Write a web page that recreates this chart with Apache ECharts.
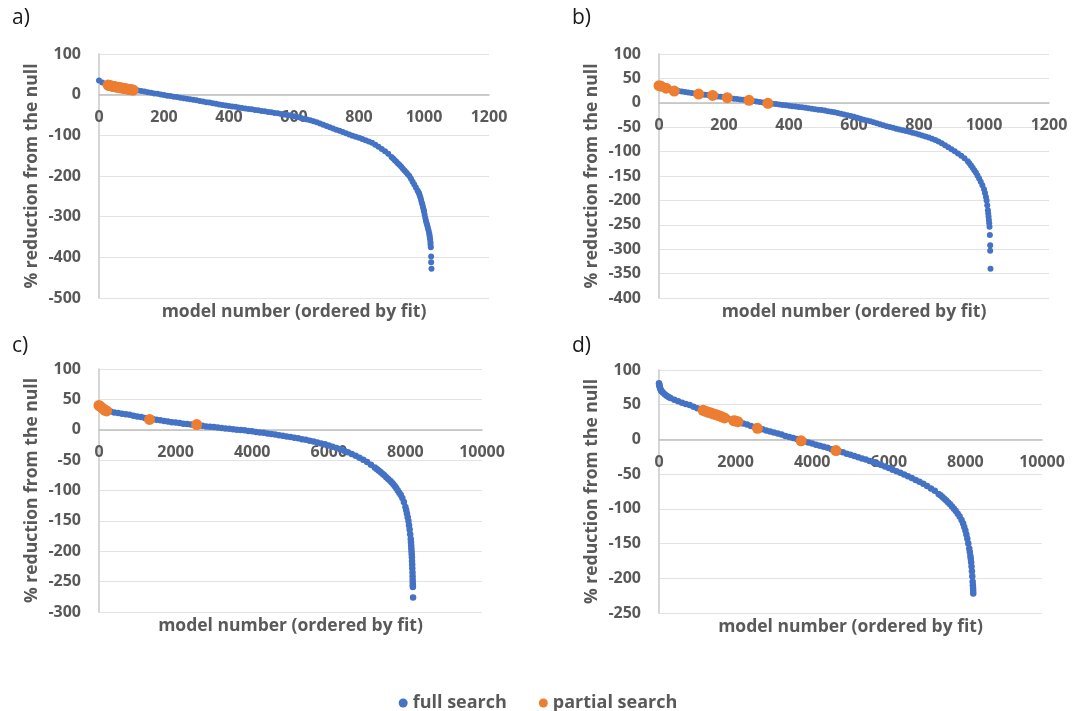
<!DOCTYPE html>
<html><head><meta charset="utf-8">
<script src="https://cdn.jsdelivr.net/npm/echarts@6/dist/echarts.min.js"></script>
<style>html,body{margin:0;padding:0;background:#fff}#c{width:1076px;height:711px}</style>
</head><body><div id="c"></div>
<script>
// ---------- DATA ----------
const seriesNames = ['full search', 'partial search'];
const panelLabels = ['a)', 'b)', 'c)', 'd)'];
const xAxisTitle = 'model number (ordered by fit)';
const yAxisTitle = '% reduction from the null';

// axis ranges / ticks
const xMin = [0, 0, 0, 0];
const xMax = [1200, 1200, 10000, 10000];
const xStep = [200, 200, 2000, 2000];
const yMin = [-500, -400, -300, -250];
const yMax = [100, 100, 100, 100];
const yStep = [100, 50, 50, 50];

// panel a
const aFullX = [0,10,20,30,40,50,60,70,80,90,100,110,120,130,140,150,160,170,180,190,200,210,220,230,240,250,260,270,280,290,300,310,320,330,340,350,360,370,380,390,400,410,420,430,440,450,460,470,480,490,500,510,520,530,540,550,560,570,580,590,600,610,620,630,640,650,660,670,680,690,700,710,720,730,740,750,760,770,780,790,800,810,820,830,840,850,860,870,880,890,900,905,910,915,920,925,930,935,940,945,950,955,960,965,970,975,980,983,985,987,989,991,993,995,997,999,1000,1002,1004,1006,1008,1010,1012,1014,1016,1017,1018,1019,1020,1020,1021,1022,1022,1023];
const aFullY = [35,30,26,23,21,19.5,18,16.5,15,13.5,12,11,10,9,7.5,6,4.5,3,2,0.5,-1,-2.5,-3.5,-5,-6,-7.5,-9,-10,-11.5,-12.5,-14,-15.5,-17,-18.5,-19.5,-21,-22.5,-24,-25.5,-26.5,-28,-29,-30,-31.5,-32.5,-34,-35,-36,-37.5,-38.5,-40,-41,-42.5,-43.5,-45,-46,-47.5,-49,-50,-51.5,-53,-55,-57,-59,-61,-63,-65.5,-68,-71,-74,-77,-80,-83,-86,-89,-92,-95,-98,-101,-103.5,-106,-109,-112,-115,-118.5,-123,-128,-133.5,-139,-145,-153,-157,-161,-165,-169,-173,-177,-182,-186.5,-191,-195.5,-200,-207,-214,-221,-228.5,-235.5,-240,-243,-248,-253,-259,-265,-270,-277,-283,-287,-295,-303,-310,-316,-322,-328,-334,-341,-346,-351,-357,-363,-369,-375,-398,-412,-428];
const aPartX = [28,32,36,40,45,50,55,60,65,70,75,80,85,90,95,100,105];
const aPartY = [23.5,22.5,22,21,20,19.5,18.5,18,17,16.5,15.5,15,14,13.5,12.5,12,11.5];

// panel b
const bFullX = [0,10,20,30,40,50,60,70,80,90,100,110,120,130,140,150,160,170,180,190,200,210,220,230,240,250,260,270,280,290,300,310,320,330,340,350,360,370,380,390,400,410,420,430,440,450,460,470,480,490,500,510,520,530,540,550,560,570,580,590,600,610,620,630,640,650,660,670,680,690,700,710,720,730,740,750,760,770,780,790,800,810,820,830,840,850,860,870,880,890,900,910,920,930,940,950,955,960,965,970,975,980,985,990,995,1000,1003,1006,1008,1010,1012,1013,1014,1015,1016,1017,1018,1019,1019,1020];
const bFullY = [38,34,31,29,27,25.5,24,23,22,21,20,19,18.5,17.5,16.5,16,15,14,13,12.5,11.5,10.5,9.5,8.5,8,7,6,5,4,3.5,2.5,1.5,0.5,0,-1,-2,-2.5,-3.5,-4.5,-5,-6,-7,-7.5,-8.5,-9,-10,-11,-12,-13,-14,-15,-16,-17.5,-18.5,-19.5,-21,-22.5,-24,-25.5,-27,-28.5,-30.5,-32.5,-34.5,-36.5,-38,-40,-42,-44,-46,-48,-49.5,-51,-53,-54.5,-56,-58,-59.5,-61.5,-63,-65,-67,-69,-71,-73.5,-76,-79.5,-83,-87,-91,-95,-99.5,-104,-108.5,-113.5,-120,-124,-128.5,-133,-138,-143,-149,-155,-162,-169,-177,-185,-193,-200,-210,-220,-227,-233,-240,-247,-254,-271,-292,-303,-340];
const bPartX = [0,6,22,47,122,165,210,277,335];
const bPartY = [35,34,30,24,18,15,10.5,5,-1];

// panel c
const cFullX = [0,20,50,100,200,300,400,500,600,700,800,900,1000,1100,1200,1300,1400,1500,1600,1700,1800,1900,2000,2100,2200,2300,2400,2500,2600,2700,2800,2900,3000,3100,3200,3300,3400,3500,3600,3700,3800,3900,4000,4100,4200,4300,4400,4500,4600,4700,4800,4900,5000,5100,5200,5300,5400,5500,5600,5700,5800,5900,6000,6100,6200,6300,6400,6500,6600,6700,6800,6900,7000,7100,7200,7250,7300,7350,7400,7450,7500,7550,7600,7640,7680,7720,7760,7800,7840,7880,7920,7960,8000,8020,8040,8060,8080,8095,8110,8125,8140,8145,8150,8155,8160,8165,8170,8173,8177,8180,8185,8188,8190,8192,8194,8195,8200];
const cFullY = [40,39,37.5,36,33,30,28.5,27.5,26.5,25.5,24.5,23,22,21,19.5,18.5,17.5,16.5,15.5,14.5,13.5,12.5,12,11,10,9.5,8.5,8,7,6.5,5.5,5,4.5,3.5,3,2,1.5,1,0,-0.5,-1,-2,-2.5,-3.5,-4.5,-5,-6,-7,-8,-9,-10,-11,-12,-13,-14,-15.5,-16.5,-18,-19.5,-21,-22.5,-24,-26,-28,-30,-32,-34.5,-37,-40,-43,-46,-49.5,-53,-57.5,-62,-64.5,-67,-69.5,-72.5,-75,-78,-81,-84,-86.5,-89.5,-92.5,-96,-100,-103.5,-107.5,-112.5,-119,-127,-132,-138,-144,-150,-157,-164,-172,-180,-185,-190,-195,-200,-205,-210,-216,-222,-228,-235,-241,-247,-252,-256,-259,-276];
const cPartX = [0,40,100,160,200,1320,2550];
const cPartY = [40,38,35,32,31,17,8.5];

// panel d
const dFullX = [0,5,10,20,35,50,70,100,150,200,250,300,400,500,600,700,800,900,1000,1100,1200,1300,1400,1500,1600,1700,1800,1900,2000,2100,2200,2300,2400,2500,2600,2700,2800,2900,3000,3100,3200,3300,3400,3500,3600,3700,3800,3900,4000,4100,4200,4300,4400,4500,4600,4700,4800,4900,5000,5100,5200,5300,5400,5500,5600,5700,5800,5900,6000,6100,6200,6300,6400,6500,6600,6700,6800,6900,7000,7100,7200,7300,7350,7400,7450,7500,7550,7600,7650,7700,7750,7800,7850,7900,7940,7970,8000,8025,8050,8075,8100,8115,8130,8140,8150,8160,8170,8180,8190,8195,8200,8203,8205];
const dFullY = [81,79,77.5,75.5,73,71,69.5,67.5,65,63,61,59.5,57,55,53,51,49.5,47,45,43,41,39,37,35.5,33.5,31.5,30,28,26.5,25,23,21.5,19.5,18,16,14.5,13,11.5,10,8.5,7,5,3.5,2,0.5,-1,-3,-4.5,-6,-7.5,-9,-10.5,-12,-14,-15.5,-17,-18.5,-20.5,-22,-24,-25.5,-27.5,-29,-31,-33,-35,-37,-39,-41,-43.5,-46,-48,-50.5,-53,-55.5,-58.5,-61,-64,-67,-70.5,-74,-78.5,-80.5,-83,-85.5,-88,-91,-93.5,-96.5,-100,-103,-107,-111,-116,-121,-126,-131,-137,-143,-150,-157,-162,-168,-172,-177,-183,-190,-197,-205,-210,-214,-218,-222];
const dPartX = [1150,1220,1290,1360,1430,1500,1570,1640,1710,1950,2000,2060,2570,3710,4620];
const dPartY = [42,40.5,39,38,36.5,35.5,34,32.5,31,27,26.5,25.5,16,-2,-16];

// ---------- CHART ----------
function pairs(xs, ys) { const n = Math.min(xs.length, ys.length); const out = []; for (let i = 0; i < n; i++) out.push([xs[i], ys[i]]); return out; }
const full = [pairs(aFullX, aFullY), pairs(bFullX, bFullY), pairs(cFullX, cFullY), pairs(dFullX, dFullY)];
const part = [pairs(aPartX, aPartY), pairs(bPartX, bPartY), pairs(cPartX, cPartY), pairs(dPartX, dPartY)];

const FONT = '"Open Sans", "Liberation Sans", sans-serif';
const GREY = '#595959';
const BLUE = '#4472C4', ORANGE = '#ED7D31';
const grids = [
  {left: 99, top: 54, width: 390, height: 244},
  {left: 659, top: 54, width: 390, height: 244},
  {left: 99, top: 369, width: 383, height: 243},
  {left: 659, top: 370, width: 383, height: 243}
];
const labelPos = [[12, 8], [572, 8], [12, 336], [572, 336]];
const blueSize = [6, 6, 6.5, 6.5];

const txt = {fontFamily: FONT, fontWeight: 'bold', fontSize: 16, color: GREY};
// distance (px) from the bottom of each grid to its y = 0 line, from the axis range
const zeroOffset = grids.map((g, i) => g.height * (0 - yMin[i]) / (yMax[i] - yMin[i]));

const option = {
  animation: false,
  backgroundColor: '#fff',
  grid: grids.map(g => Object.assign({containLabel: false}, g)),
  title: [].concat(
    panelLabels.map((t, i) => ({text: t, left: labelPos[i][0], top: labelPos[i][1], padding: 0,
      textStyle: {fontFamily: FONT, fontWeight: 'normal', fontSize: 21, color: '#1a1a1a'}})),
    grids.map((g, i) => ({text: xAxisTitle, left: g.left + g.width / 2, top: g.top + g.height + 5, padding: 0,
      textAlign: 'center', textStyle: Object.assign({}, txt, {fontSize: 17.5})}))
  ),
  legend: {
    data: seriesNames, top: 689, left: 'center', icon: 'circle', itemWidth: 9, itemHeight: 9, itemGap: 32,
    textStyle: Object.assign({}, txt, {fontSize: 18})
  },
  xAxis: grids.map((g, i) => ({
    type: 'value', gridIndex: i, min: xMin[i], max: xMax[i], interval: xStep[i],
    position: 'bottom', offset: -zeroOffset[i],
    axisLine: {show: true, onZero: false, lineStyle: {color: '#bfbfbf', width: 1.5}},
    axisTick: {show: false}, splitLine: {show: false},
    axisLabel: Object.assign({margin: 15, formatter: v => String(v)}, txt)
  })),
  yAxis: grids.map((g, i) => ({
    type: 'value', gridIndex: i, min: yMin[i], max: yMax[i], interval: yStep[i],
    name: yAxisTitle, nameLocation: 'middle', nameGap: 58, nameRotate: 90,
    nameTextStyle: Object.assign({}, txt, {fontSize: 17.5}),
    axisLine: {show: true, onZero: false, lineStyle: {color: '#c8c8c8', width: 1.5}},
    axisTick: {show: false},
    splitLine: {show: true, lineStyle: {color: '#e3e3e3', width: 1.2}},
    axisLabel: Object.assign({margin: 18, formatter: v => String(v)}, txt)
  })),
  series: [].concat(
    full.map((d, i) => ({type: 'scatter', name: seriesNames[0], xAxisIndex: i, yAxisIndex: i, data: d,
      symbol: 'circle', symbolSize: blueSize[i], itemStyle: {color: BLUE, opacity: 1}, z: 2})),
    part.map((d, i) => ({type: 'scatter', name: seriesNames[1], xAxisIndex: i, yAxisIndex: i, data: d,
      symbol: 'circle', symbolSize: 11, itemStyle: {color: ORANGE, opacity: 1}, z: 3}))
  )
};
const chart = echarts.init(document.getElementById('c'));
chart.setOption(option);
</script></body></html>
